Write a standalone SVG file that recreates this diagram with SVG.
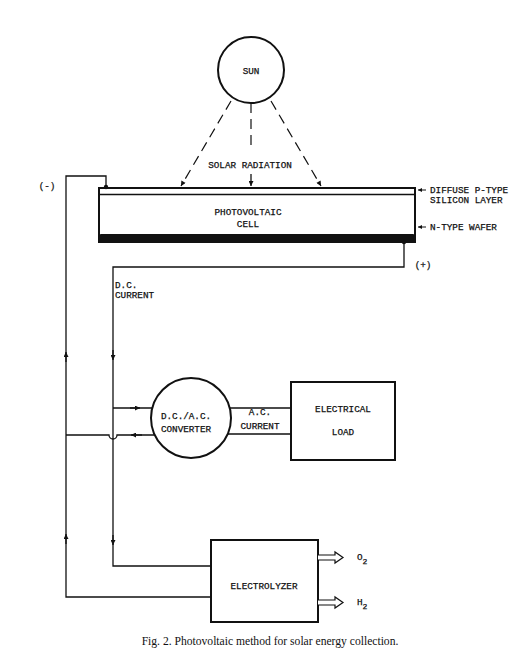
<svg xmlns="http://www.w3.org/2000/svg" width="530" height="664" viewBox="0 0 530 664">
<style>
.t{font-family:"Liberation Mono","DejaVu Sans Mono",monospace;font-size:9.3px;fill:#111;stroke:#111;stroke-width:0.25}
.c{text-anchor:middle}
.ln{fill:none;stroke:#111;stroke-width:1.3}
.bx{fill:none;stroke:#111;stroke-width:2}
.ds{fill:none;stroke:#111;stroke-width:1.2;stroke-dasharray:10,6}
.cap{font-family:"Liberation Serif","Times New Roman",serif;font-size:11.6px;fill:#111;text-anchor:middle}
</style>
<defs>
<marker id="a" viewBox="0 0 10 10" refX="10" refY="5" markerWidth="9" markerHeight="5" markerUnits="userSpaceOnUse" orient="auto"><path d="M0,0 L10,5 L0,10 z" fill="#111"/></marker>
<marker id="s" viewBox="0 0 10 10" refX="10" refY="5" markerWidth="5" markerHeight="4" markerUnits="userSpaceOnUse" orient="auto"><path d="M0,0 L10,5 L0,10 z" fill="#111"/></marker>
</defs>
<rect width="530" height="664" fill="#fff"/>

<g id="sun">
<circle cx="251" cy="70" r="33" class="bx"/>
<text x="251" y="74" class="t c">SUN</text>
</g>

<g id="cell">
<rect x="99" y="188" width="316" height="54" class="bx"/>
<line x1="99" y1="194.5" x2="415" y2="194.5" stroke="#111" stroke-width="1.3"/>
<rect x="99" y="234" width="316" height="8" rx="2" fill="#111"/>
<text x="248" y="215" class="t c">PHOTOVOLTAIC</text>
<text x="248" y="227" class="t c">CELL</text>
</g>

<g id="converter">
<circle cx="191" cy="418" r="40" class="bx"/>
<text x="186" y="419" class="t c">D.C./A.C.</text>
<text x="186" y="432" class="t c">CONVERTER</text>
</g>

<g id="load">
<rect x="291" y="382" width="104" height="78" class="bx"/>
<text x="343" y="412" class="t c">ELECTRICAL</text>
<text x="343" y="435" class="t c">LOAD</text>
</g>

<g id="electrolyzer">
<rect x="211" y="540" width="107" height="82" class="bx"/>
<text x="264" y="589" class="t c">ELECTROLYZER</text>
</g>

<g id="connectors">
<!-- solar rays -->
<path d="M231,101 L181,186" class="ds" marker-end="url(#a)"/>
<path d="M251,103 L251,150" class="ds"/>
<path d="M251,174 L251,186" class="ln" marker-end="url(#a)"/>
<path d="M271,101 L321,186" class="ds" marker-end="url(#a)"/>
<!-- negative return wire -->
<path d="M106,187 V176 H66 V597 H211" class="ln"/>
<circle cx="106" cy="187" r="2.2" fill="#111"/>
<!-- positive wire -->
<path d="M404,242 V267 H113 V566 H211" class="ln"/>
<circle cx="404" cy="242" r="2.2" fill="#111"/>
<!-- into converter -->
<path d="M113,408 H152.3" class="ln"/>
<path d="M66,435 H109 A4,4 0 0 0 117,435 H154.5" class="ln"/>
<!-- AC current -->
<path d="M229.7,408 H291 M228,434 H291" class="ln"/>
<!-- arrowheads on wires -->
<path d="M130,408 L140,408" class="ln" marker-end="url(#a)"/>
<path d="M142,435 L131,435" class="ln" marker-end="url(#a)"/>
<path d="M113,350 L113,360" class="ln" marker-end="url(#a)"/>
<path d="M113,535 L113,545" class="ln" marker-end="url(#a)"/>
<path d="M66,362 L66,352" class="ln" marker-end="url(#a)"/>
<path d="M66,544 L66,534" class="ln" marker-end="url(#a)"/>
<!-- label pointer arrows -->
<path d="M426,190 L418,190" stroke="#111" stroke-width="1" marker-end="url(#s)"/>
<path d="M426,227 L418,227" stroke="#111" stroke-width="1" marker-end="url(#s)"/>
<!-- product outputs -->
<path d="M318,555 H335 V552 L343,557.5 L335,563 V560 H318" fill="#fff" stroke="#111" stroke-width="1.2"/>
<path d="M318,600 H335 V597 L343,602.5 L335,608 V605 H318" fill="#fff" stroke="#111" stroke-width="1.2"/>
</g>

<g id="labels">
<text x="250" y="168" class="t c">SOLAR RADIATION</text>
<text x="430" y="193" class="t">DIFFUSE P-TYPE</text>
<text x="430" y="203" class="t">SILICON LAYER</text>
<text x="430" y="230" class="t">N-TYPE WAFER</text>
<text x="47" y="189" class="t c">(-)</text>
<text x="423" y="268" class="t c">(+)</text>
<text x="115" y="288" class="t">D.C.</text>
<text x="115" y="298" class="t">CURRENT</text>
<text x="260" y="415" class="t c">A.C.</text>
<text x="260" y="429" class="t c">CURRENT</text>
<text x="357" y="560" class="t">O<tspan font-size="8" dy="4">2</tspan></text>
<text x="357" y="605" class="t">H<tspan font-size="8" dy="4">2</tspan></text>
</g>

<text x="270" y="645" class="cap">Fig. 2. Photovoltaic method for solar energy collection.</text>
</svg>
